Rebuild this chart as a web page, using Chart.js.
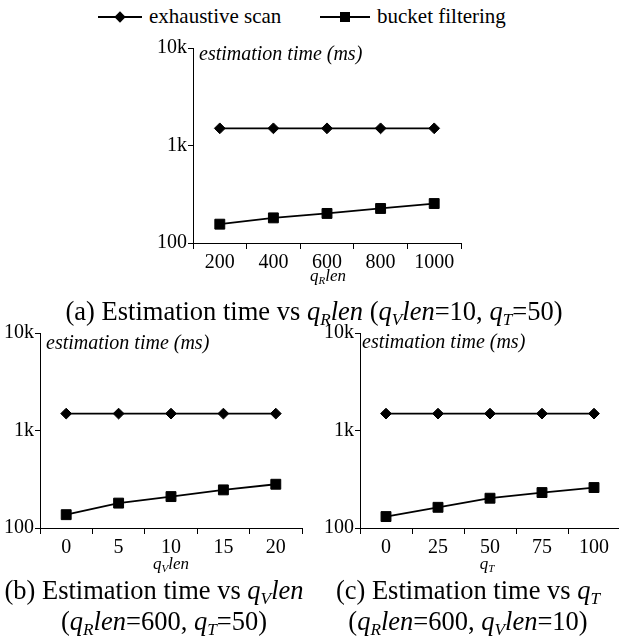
<!DOCTYPE html>
<html>
<head>
<meta charset="utf-8">
<script src="https://cdn.jsdelivr.net/npm/chart.js@4.4.0/dist/chart.umd.min.js"></script>
<style>
  html, body { margin: 0; padding: 0; background: #fff; overflow: hidden; }
  body { width: 619px; height: 639px; position: relative; font-family: 'Liberation Serif', serif; color: #000; }
  canvas { position: absolute; }
  .txt { position: absolute; white-space: nowrap; line-height: 1; }
  .c { transform: translate(-50%, -50%); }
  .l { transform: translate(0, -50%); }
  .legend { font-size: 21px; }
  .ytitle { font-size: 20px; font-style: italic; }
  .xtitle { font-size: 17px; font-style: italic; }
  .cap { font-size: 26.5px; }
  sub { font-size: 0.65em; vertical-align: -0.3em; line-height: 0; }
  .key-line { position: absolute; height: 2px; background: #000; }
  .key-diamond { position: absolute; width: 8px; height: 8px; background: #000; transform: translate(-50%, -50%) rotate(45deg); }
  .key-square { position: absolute; width: 10px; height: 10px; background: #000; transform: translate(-50%, -50%); }
</style>
</head>
<body>

<!-- legend -->
<div class="key-line" style="left:98px; top:16px; width:44px"></div>
<div class="key-diamond" style="left:120px; top:17px"></div>
<div class="txt l legend" style="left:149px; top:16px">exhaustive scan</div>
<div class="key-line" style="left:320px; top:16px; width:50px"></div>
<div class="key-square" style="left:345px; top:17px"></div>
<div class="txt l legend" style="left:377px; top:16px">bucket filtering</div>

<canvas id="chartA"></canvas>
<canvas id="chartB"></canvas>
<canvas id="chartC"></canvas>

<!-- axis titles -->
<div class="txt l ytitle" style="left:199px; top:53px">estimation time (ms)</div>
<div class="txt l ytitle" style="left:46px; top:342px">estimation time (ms)</div>
<div class="txt l ytitle" style="left:362px; top:341px">estimation time (ms)</div>
<div class="txt c xtitle" style="left:328px; top:275px">q<sub>R</sub>len</div>
<div class="txt c xtitle" style="left:171px; top:563px">q<sub>V</sub>len</div>
<div class="txt c xtitle" style="left:487px; top:563px">q<sub>T</sub></div>

<!-- captions -->
<div class="txt c cap" style="left:314px; top:311px">(a) Estimation time vs <i>q<sub>R</sub>len</i> (<i>q<sub>V</sub>len</i>=10, <i>q<sub>T</sub></i>=50)</div>
<div class="txt c cap" style="left:154px; top:590px">(b) Estimation time vs <i>q<sub>V</sub>len</i></div>
<div class="txt c cap" style="left:164px; top:621px">(<i>q<sub>R</sub>len</i>=600, <i>q<sub>T</sub></i>=50)</div>
<div class="txt c cap" style="left:468px; top:590px">(c) Estimation time vs <i>q<sub>T</sub></i></div>
<div class="txt c cap" style="left:468px; top:621px">(<i>q<sub>R</sub>len</i>=600, <i>q<sub>V</sub>len</i>=10)</div>

<script>
// x categories
const qRlenLabels = ['200', '400', '600', '800', '1000'];
const qVlenLabels = ['0', '5', '10', '15', '20'];
const qTLabels = ['0', '25', '50', '75', '100'];

// estimation time in ms
const exhaustiveA = [1500, 1500, 1500, 1500, 1500];
const bucketA = [156, 181, 201, 226, 254];
const exhaustiveB = [1490, 1490, 1490, 1490, 1490];
const bucketB = [137, 180, 210, 246, 281];
const exhaustiveC = [1490, 1490, 1490, 1490, 1490];
const bucketC = [131, 163, 202, 231, 260];

// log axis ticks
const yTickValues = [100, 1000, 10000];
const yTickLabels = ['100', '1k', '10k'];

const TICK_FONT = { family: 'Liberation Serif', size: 20 };
const PAD_TOP = 16, PAD_RIGHT = 8, Y_WIDTH = 48, X_HEIGHT = 34;

function renderPanel(canvasId, area, labels, exhaustive, bucket) {
  const canvas = document.getElementById(canvasId);
  canvas.width = area.right - area.left + Y_WIDTH + PAD_RIGHT;
  canvas.height = area.bottom - area.top + PAD_TOP + X_HEIGHT;
  canvas.style.left = (area.left - Y_WIDTH) + 'px';
  canvas.style.top = (area.top - PAD_TOP) + 'px';

  return new Chart(canvas, {
    type: 'line',
    data: {
      labels,
      datasets: [
        {
          label: 'exhaustive scan', data: exhaustive,
          borderColor: '#000', backgroundColor: '#000', borderWidth: 1.8, tension: 0,
          pointStyle: 'rectRot', pointRadius: 5.4, pointBorderWidth: 1, pointBackgroundColor: '#000', pointBorderColor: '#000'
        },
        {
          label: 'bucket filtering', data: bucket,
          borderColor: '#000', backgroundColor: '#000', borderWidth: 1.8, tension: 0,
          pointStyle: 'rect', pointRadius: 7, pointBorderWidth: 1, pointBackgroundColor: '#000', pointBorderColor: '#000'
        }
      ]
    },
    options: {
      responsive: false, animation: false,
      layout: { padding: { top: PAD_TOP, right: PAD_RIGHT, left: 0, bottom: 0 } },
      plugins: { legend: { display: false }, tooltip: { enabled: false } },
      scales: {
        x: {
          type: 'category', offset: true,
          grid: { offset: true, drawOnChartArea: false, drawTicks: true, tickLength: 6, color: '#000' },
          border: { display: true, color: '#000', width: 1 },
          ticks: { color: '#000', font: TICK_FONT, padding: 2, maxRotation: 0, autoSkip: false },
          afterFit: (s) => { s.height = X_HEIGHT; }
        },
        y: {
          type: 'logarithmic', min: 100, max: 10000,
          afterBuildTicks: (s) => { s.ticks = yTickValues.map(v => ({ value: v })); },
          grid: { drawOnChartArea: false, drawTicks: true, tickLength: 5, color: '#000' },
          border: { display: true, color: '#000', width: 1 },
          ticks: { color: '#000', font: TICK_FONT, padding: 1, callback: (v) => yTickLabels[yTickValues.indexOf(v)] ?? '' },
          afterFit: (s) => { s.width = Y_WIDTH; }
        }
      }
    }
  });
}

renderPanel('chartA', { left: 193, right: 461, top: 48, bottom: 243 }, qRlenLabels, exhaustiveA, bucketA);
renderPanel('chartB', { left: 40, right: 302, top: 333, bottom: 528 }, qVlenLabels, exhaustiveB, bucketB);
renderPanel('chartC', { left: 360, right: 620, top: 333, bottom: 528 }, qTLabels, exhaustiveC, bucketC);
</script>
</body>
</html>
